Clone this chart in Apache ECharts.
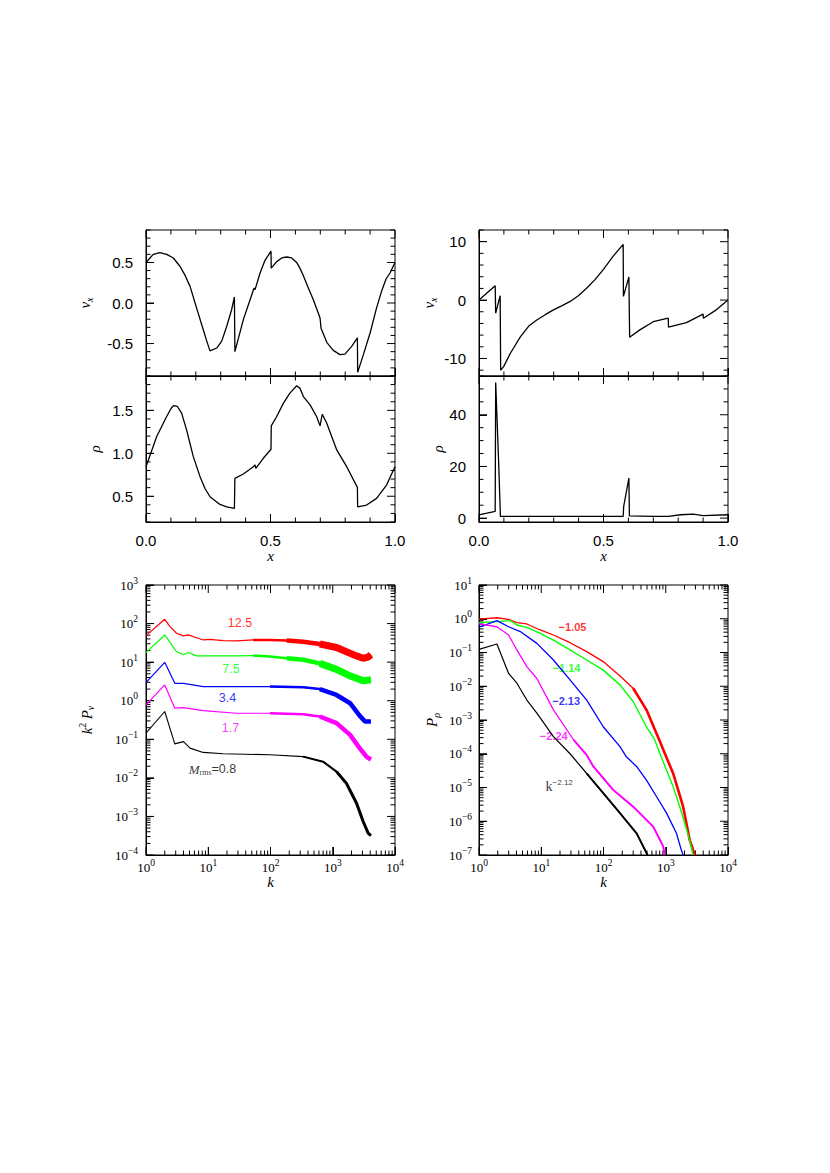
<!DOCTYPE html>
<html><head><meta charset="utf-8">
<script src="https://cdn.jsdelivr.net/npm/echarts@6/dist/echarts.min.js"></script>
<style>html,body{margin:0;padding:0;background:#fff}#c{position:absolute;left:0;top:0;width:830px;height:1173px}</style>
</head><body>
<script>
// ---------- DATA ----------
const tlVxX = [0,0.029,0.056,0.083,0.110,0.137,0.157,0.177,0.203,0.230,0.244,0.257,0.284,0.304,0.324,0.344,0.355,0.357,0.391,0.418,0.434,0.438,0.458,0.478,0.502,0.503,0.525,0.545,0.565,0.585,0.605,0.618,0.632,0.652,0.672,0.699,0.703,0.726,0.752,0.779,0.799,0.826,0.849,0.850,0.873,0.900,0.926,0.946,0.964,0.980,1.0];
const tlVxY = [0.50,0.60,0.62,0.60,0.555,0.45,0.34,0.205,-0.06,-0.33,-0.47,-0.59,-0.555,-0.47,-0.29,-0.08,0.074,-0.60,-0.205,0.04,0.185,0.165,0.37,0.526,0.64,0.43,0.51,0.555,0.567,0.555,0.50,0.43,0.337,0.185,0.04,-0.185,-0.31,-0.485,-0.584,-0.637,-0.63,-0.534,-0.43,-0.855,-0.637,-0.37,-0.06,0.144,0.296,0.37,0.50];
const tlRhoX = [0,0.043,0.083,0.103,0.112,0.126,0.143,0.163,0.190,0.217,0.237,0.257,0.297,0.324,0.355,0.357,0.391,0.431,0.438,0.441,0.471,0.502,0.503,0.525,0.552,0.578,0.605,0.618,0.632,0.659,0.685,0.699,0.708,0.726,0.766,0.806,0.849,0.850,0.886,0.926,0.966,1.0];
const tlRhoY = [0.844,1.195,1.428,1.533,1.556,1.545,1.467,1.272,0.961,0.728,0.59,0.494,0.405,0.377,0.358,0.708,0.759,0.844,0.864,0.825,0.942,1.047,1.319,1.428,1.584,1.70,1.786,1.759,1.66,1.564,1.428,1.319,1.455,1.35,1.039,0.844,0.603,0.377,0.397,0.475,0.63,0.844];
const trVxX = [0,0.065,0.067,0.085,0.087,0.099,0.126,0.166,0.199,0.232,0.266,0.299,0.332,0.366,0.399,0.433,0.466,0.499,0.539,0.579,0.580,0.602,0.605,0.646,0.700,0.760,0.761,0.833,0.900,0.901,0.953,1.0];
const trVxY = [0,2.47,-2.24,0.75,-12.0,-11.4,-9.1,-6.3,-4.5,-3.4,-2.5,-1.67,-0.98,-0.23,0.75,2.07,3.5,5.23,7.53,9.54,0.63,3.97,-6.38,-5.1,-3.7,-3.1,-4.65,-3.85,-2.41,-3.1,-1.67,0];
const trRhoX = [0,0.065,0.067,0.079,0.086,0.30,0.579,0.581,0.602,0.604,0.70,0.76,0.81,0.86,0.90,1.0];
const trRhoY = [1.3,2.6,52.5,21.3,0.65,0.65,0.65,4.5,15.5,0.9,0.65,0.65,1.3,1.55,1.0,1.3];

const blRedK = [1,2,2.43,3.1,3.97,4.78,6.5,8.3,10.6,17.4,28.5,52.8,98,182,335,620,1150,1660,2410,3080,3700,4096];
const blRedP = [48.6,129,83,56,48,51,43,37.6,38.9,36.3,35.5,37.6,37.6,36.3,33.9,29.5,24,18.6,14.5,12.6,13.5,15.5];
const blGreenK = [1,2,3.1,4,4.78,6.5,10.6,28.5,52.8,98,182,335,620,1150,1900,3080,4096];
const blGreenP = [17.7,50.7,18.6,15.5,17.8,14.5,14.5,14.5,14.8,14.0,12.6,11.5,9.3,6.5,4.4,3.3,3.5];
const blBlueK = [1,2,2.9,4,8.3,28.5,98,335,620,1150,1900,2700,3300,4096];
const blBlueP = [2.95,9.9,2.82,2.82,2.32,2.32,2.32,2.24,2.0,1.41,0.86,0.41,0.29,0.29];
const blMagK = [1,2,2.9,4,8.3,28.5,98,335,620,1150,1900,2700,3500,4096];
const blMagP = [0.78,2.57,0.64,0.66,0.556,0.473,0.473,0.447,0.389,0.263,0.13,0.059,0.035,0.03];
const blBlackK = [1,2,2.9,4,5.1,8.3,17.4,98,335,700,1150,1660,2410,3080,3700,4096];
const blBlackP = [0.144,0.525,0.076,0.087,0.059,0.0457,0.042,0.0398,0.0355,0.0263,0.0145,0.0072,0.0022,7.4e-4,3.7e-4,3.2e-4];
const blNoteText = ['12.5','7.5','3.4','1.7','{mi|M}{sub|rms}{n|=0.8}'];
const blNoteK = [32.4,23.2,20.4,22.8,11.7];
const blNoteP = [104,6.67,1.2,0.2,0.0168];

const brRedK = [1,1.94,2.99,4.06,5.87,9.6,15.7,29,53.8,99,184,300,490,710,785,967,1315,1581,1901,2148,2431,2925];
const brRedP = [0.98,1.07,0.96,0.766,0.70,0.465,0.33,0.195,0.106,0.0537,0.02,0.0087,0.002,4e-4,2.6e-4,1.02e-4,2.6e-5,8.5e-6,2.7e-6,8.7e-7,2.75e-7,1e-7];
const brGreenK = [1,1.94,3.2,4.06,5.87,9.6,15.7,29,53.8,99,184,300,490,668,804,1028,1315,1683,2022,2431,2749];
const brGreenP = [0.77,0.82,0.88,0.653,0.557,0.37,0.234,0.119,0.06,0.030,0.011,0.00347,6.3e-4,2.57e-4,1.02e-4,3.3e-5,1.05e-5,2.7e-6,8.7e-7,2.75e-7,1e-7];
const brBlueK = [1,1.94,2.99,4.6,8.5,15.7,29,53.8,99,184,233,340,490,710,1030,1485,1780,1900];
const brBlueP = [0.56,0.88,0.58,0.417,0.186,0.060,0.0155,0.0039,6.3e-4,1.62e-4,8.1e-5,4.2e-5,1.66e-5,5.4e-6,1.74e-6,4.4e-7,1.4e-7,1e-7];
const brMagK = [1,1.94,2.99,4.06,5.87,8.5,15.7,33,53.8,68.6,143,300,630,910,960];
const brMagP = [0.70,0.58,0.33,0.119,0.038,0.017,0.002,2.6e-4,9.1e-5,4.2e-5,8.5e-6,2.7e-6,6.9e-7,1.8e-7,1e-7];
const brBlackK = [1,1.94,2.99,4.06,5.87,8.5,15.7,29,53.8,99,184,340,510];
const brBlackP = [0.124,0.178,0.024,0.0123,0.0039,0.0016,3.2e-4,1e-4,2.6e-5,6.8e-6,1.74e-6,4.4e-7,1e-7];
const brNoteText = ['−1.05','−1.14','−2.13','−2.24','{k|k}{sup|−2.12}'];
const brNoteK = [31.8,25.4,25.1,15.9,19.4];
const brNoteP = [0.58,0.0355,0.00366,3.43e-4,1.06e-5];

// ---------- tick helpers ----------
function steps(a, b, step, skip) {
  const out = []; const n = Math.round((b - a) / step);
  for (let i = 0; i <= n; i++) { const v = +(a + i * step).toFixed(6); if (!skip.some(s => Math.abs(s - v) < 1e-9)) out.push(v); }
  return out;
}
function logMajors(lo, hi) { const o = []; for (let d = lo; d <= hi; d++) o.push(+Math.pow(10, d).toPrecision(6)); return o; }
function logMinors(lo, hi) { const o = []; for (let d = lo; d < hi; d++) for (let m = 2; m <= 9; m++) o.push(+(m * Math.pow(10, d)).toPrecision(6)); return o; }

const SANS = '"Liberation Sans", Arial, Helvetica, sans-serif';
const SERIF = '"Liberation Serif", "Times New Roman", serif';
const RED = '#ff0000', GREEN = '#00ff00', BLUE = '#0000ff', MAG = '#ff00ff', BLK = '#000000';

const linFmt = v => (Math.abs(v) < 1e-9 ? 0 : v).toFixed(1);
const intFmt = v => String(Math.round(v));
const logFmt = v => { const e = Math.round(Math.log10(v)); return '{b|10}{s|' + (e < 0 ? '−' + (-e) : e) + '}'; };
const logRich = { b: { fontFamily: SERIF, fontSize: 13, color: '#000' }, s: { fontFamily: SERIF, fontSize: 9.5, color: '#000', padding: [0, 0, 9, 0] } };
const nameRich = {
  i: { fontFamily: SERIF, fontStyle: 'italic', fontSize: 15, color: '#000' },
  sub: { fontFamily: SERIF, fontStyle: 'italic', fontSize: 10, color: '#000', padding: [8, 0, 0, 0] },
  sup: { fontFamily: SERIF, fontSize: 10, color: '#000', padding: [0, 0, 9, 0] }
};

const xLin = { type: 'value', min: 0, max: 1, majors: [0, 0.5, 1], minors: steps(0, 1, 0.1, [0, 0.5, 1]), fmt: linFmt, labelFont: SANS, labelSize: 15, margin: 11,
  name: '{i|x}', nameGap: 26 };
const yTlVx = { type: 'value', min: -0.9, max: 0.9, majors: [-0.5, 0, 0.5], minors: steps(-0.9, 0.9, 0.1, [-0.5, 0, 0.5]), fmt: linFmt, labelFont: SANS, labelSize: 15, margin: 13,
  name: '{i|v}{sub|x}', nameGap: 52 };
const yTlRho = { type: 'value', min: 0.2, max: 1.9, majors: [0.5, 1, 1.5], minors: steps(0.2, 1.9, 0.1, [0.5, 1, 1.5]), fmt: linFmt, labelFont: SANS, labelSize: 15, margin: 13,
  name: '{i|ρ}', nameGap: 44 };
const yTrVx = { type: 'value', min: -13, max: 12, majors: [-10, 0, 10], minors: steps(-12, 12, 2, [-10, 0, 10]), fmt: intFmt, labelFont: SANS, labelSize: 15, margin: 13,
  name: '{i|v}{sub|x}', nameGap: 41 };
const yTrRho = { type: 'value', min: -1.5, max: 55, majors: [0, 20, 40], minors: steps(5, 55, 5, [20, 40]), fmt: intFmt, labelFont: SANS, labelSize: 15, margin: 13,
  name: '{i|ρ}', nameGap: 33 };
const xLog = { type: 'log', min: 1, max: 1e4, majors: logMajors(0, 4), minors: logMinors(0, 4), fmt: logFmt, rich: logRich, margin: 3,
  name: '{i|k}', nameGap: 19 };
const yBlLog = { type: 'log', min: 1e-4, max: 1e3, majors: logMajors(-4, 3), minors: logMinors(-4, 3), fmt: logFmt, rich: logRich, margin: 8,
  name: '{i|k}{sup|2} {i|P}{sub|v}', nameGap: 50 };
const yBrLog = { type: 'log', min: 1e-7, max: 10, majors: logMajors(-7, 1), minors: logMinors(-7, 1), fmt: logFmt, rich: logRich, margin: 7,
  name: '{i|P}{sub|ρ}', nameGap: 38 };

// ---------- build: one x/y axis pair per panel, frame drawn by the grid border ----------
const grid = [], xAxis = [], yAxis = [], series = [];
function addAxis(list, g, spec, withLabel) {
  const a = { gridIndex: g, type: spec.type, min: spec.min, max: spec.max,
    splitLine: { show: false },
    axisLine: { show: true, onZero: false, lineStyle: { color: '#000' } },
    axisTick: { show: true, inside: true, length: 8, customValues: spec.majors, lineStyle: { color: '#000' } },
    axisLabel: { show: withLabel, customValues: spec.majors, formatter: spec.fmt, margin: spec.margin, color: '#000',
      fontFamily: spec.labelFont || SERIF, fontSize: spec.labelSize || 13, rich: spec.rich } };
  if (spec.type === 'log') a.logBase = 10;
  if (withLabel) { a.name = spec.name; a.nameLocation = 'middle'; a.nameGap = spec.nameGap; a.nameTextStyle = { rich: nameRich, color: '#000' }; }
  list.push(a); return list.length - 1;
}
// move a value along an axis by a number of pixels (tick lengths)
function shift(spec, v, px, sizePx) {
  if (spec.type === 'log') return v * Math.pow(10, px / sizePx * (Math.log10(spec.max) - Math.log10(spec.min)));
  return v + px / sizePx * (spec.max - spec.min);
}
// inward ticks on all four sides as short segments of one broken line series
function tickSeries(p, rect) {
  const xs = p.xs, ys = p.ys, data = [];
  const seg = (a, b) => { data.push(a, b, ['-', '-']); };
  [[xs.minors, 4.5], [xs.majors, 8]].forEach(([vals, len]) => vals.forEach(v => {
    seg([v, ys.min], [v, shift(ys, ys.min, len, rect.height)]);
    seg([v, ys.max], [v, shift(ys, ys.max, -len, rect.height)]);
  }));
  [[ys.minors, 4.5], [ys.majors, 8]].forEach(([vals, len]) => vals.forEach(v => {
    seg([xs.min, v], [shift(xs, xs.min, len, rect.width), v]);
    seg([xs.max, v], [shift(xs, xs.max, -len, rect.width), v]);
  }));
  series.push({ type: 'line', xAxisIndex: p.xi, yAxisIndex: p.yi, data, symbol: 'none', clip: false,
    lineStyle: { color: '#000', width: 1 } });
}
function panel(rect, xs, ys, xLabels) {
  grid.push(Object.assign({ show: true, borderColor: '#000', borderWidth: 1, backgroundColor: 'transparent' }, rect));
  const g = grid.length - 1;
  const xi = addAxis(xAxis, g, xs, xLabels);
  const yi = addAxis(yAxis, g, ys, true);
  const p = { xi, yi, xs, ys };
  tickSeries(p, rect);
  return p;
}
function line(p, xs, ys, color, width, fromX) {
  const data = [];
  xs.forEach((x, i) => { if (fromX === undefined || x >= fromX) data.push([x, ys[i]]); });
  series.push({ type: 'line', xAxisIndex: p.xi, yAxisIndex: p.yi, data, symbol: 'none', lineStyle: { color, width } });
}
function notes(p, ks, ps, texts, colors, style) {
  series.push({ type: 'scatter', xAxisIndex: p.xi, yAxisIndex: p.yi, symbol: 'circle', symbolSize: 1,
    itemStyle: { color: 'rgba(0,0,0,0)' },
    data: ks.map((k, i) => ({ value: [k, ps[i]], label: { show: true, position: 'inside', formatter: texts[i], color: colors[i],
      fontFamily: style.font, fontSize: style.size, fontWeight: style.weight, rich: style.rich } })) });
}

const pTL1 = panel({ left: 146, top: 230, width: 249, height: 146 }, xLin, yTlVx, false);
const pTL2 = panel({ left: 146, top: 376, width: 249, height: 146 }, xLin, yTlRho, true);
const pTR1 = panel({ left: 479, top: 230, width: 249, height: 146 }, xLin, yTrVx, false);
const pTR2 = panel({ left: 479, top: 376, width: 249, height: 146 }, xLin, yTrRho, true);
const pBL = panel({ left: 146, top: 585, width: 249, height: 270 }, xLog, yBlLog, true);
const pBR = panel({ left: 479, top: 585, width: 249, height: 270 }, xLog, yBrLog, true);

line(pTL1, tlVxX, tlVxY, BLK, 1.3);
line(pTL2, tlRhoX, tlRhoY, BLK, 1.3);
line(pTR1, trVxX, trVxY, BLK, 1.3);
line(pTR2, trRhoX, trRhoY, BLK, 1.3);

// bottom-left: thin line everywhere + widening band where the spectrum is noisy
line(pBL, blRedK, blRedP, RED, 1.2); line(pBL, blRedK, blRedP, RED, 2.5, 40); line(pBL, blRedK, blRedP, RED, 4.5, 150); line(pBL, blRedK, blRedP, RED, 7, 600);
line(pBL, blGreenK, blGreenP, GREEN, 1.2); line(pBL, blGreenK, blGreenP, GREEN, 2.5, 40); line(pBL, blGreenK, blGreenP, GREEN, 4.5, 150); line(pBL, blGreenK, blGreenP, GREEN, 7, 600);
line(pBL, blBlueK, blBlueP, BLUE, 1.2); line(pBL, blBlueK, blBlueP, BLUE, 2.5, 90); line(pBL, blBlueK, blBlueP, BLUE, 4.5, 600);
line(pBL, blMagK, blMagP, MAG, 1.2); line(pBL, blMagK, blMagP, MAG, 2.5, 90); line(pBL, blMagK, blMagP, MAG, 4.5, 600);
line(pBL, blBlackK, blBlackP, BLK, 1.1); line(pBL, blBlackK, blBlackP, BLK, 2, 300); line(pBL, blBlackK, blBlackP, BLK, 3, 1100);

line(pBR, brRedK, brRedP, RED, 1.3); line(pBR, brRedK, brRedP, RED, 2.6, 290);
line(pBR, brGreenK, brGreenP, GREEN, 1.4);
line(pBR, brBlueK, brBlueP, BLUE, 1.3);
line(pBR, brMagK, brMagP, MAG, 1.3); line(pBR, brMagK, brMagP, MAG, 1.9, 30);
line(pBR, brBlackK, brBlackP, BLK, 1.2); line(pBR, brBlackK, brBlackP, BLK, 1.9, 40);

notes(pBL, blNoteK, blNoteP, blNoteText, [RED, GREEN, BLUE, MAG, BLK],
  { font: SANS, size: 12.5, weight: 'normal', rich: {
    mi: { fontFamily: SERIF, fontStyle: 'italic', fontSize: 13, color: '#000' },
    sub: { fontFamily: SERIF, fontSize: 8, color: '#000', padding: [6, 0, 0, 0] },
    n: { fontFamily: SANS, fontSize: 12.5, color: '#000' } } });
notes(pBR, brNoteK, brNoteP, brNoteText, [RED, GREEN, BLUE, MAG, BLK],
  { font: SANS, size: 11, weight: 'bold', rich: {
    k: { fontFamily: SERIF, fontSize: 14, fontWeight: 'normal', color: '#000' },
    sup: { fontFamily: SANS, fontSize: 8, fontWeight: 'normal', color: '#000', padding: [0, 0, 8, 0] } } });

const div = document.createElement('div');
div.id = 'c';
document.body.appendChild(div);
const chart = echarts.init(div, null, { renderer: 'svg' });
chart.setOption({ animation: false, grid, xAxis, yAxis, series });
</script></body></html>
